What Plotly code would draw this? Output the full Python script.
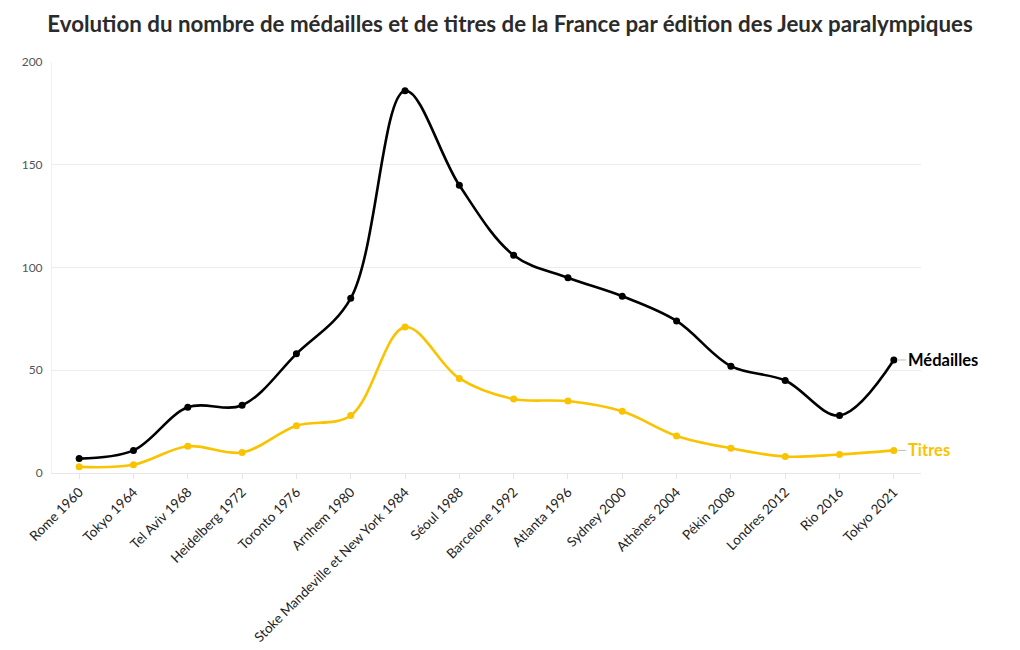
import plotly.graph_objects as go

editions = ["Rome 1960", "Tokyo 1964", "Tel Aviv 1968", "Heidelberg 1972", "Toronto 1976",
            "Arnhem 1980", "Stoke Mandeville et New York 1984", "Séoul 1988", "Barcelone 1992",
            "Atlanta 1996", "Sydney 2000", "Athènes 2004", "Pékin 2008", "Londres 2012",
            "Rio 2016", "Tokyo 2021"]
medailles = [7, 11, 32, 33, 58, 85, 186, 140, 106, 95, 86, 74, 52, 45, 28, 55]
titres = [3, 4, 13, 10, 23, 28, 71, 46, 36, 35, 30, 18, 12, 8, 9, 11]

BLACK = "#000000"
GOLD = "#F9C300"
FONT = "Lato"

fig = go.Figure()
fig.add_trace(go.Scatter(x=editions, y=medailles, mode="lines+markers", name="Médailles",
                         line=dict(color=BLACK, width=2.6, shape="spline", smoothing=1),
                         marker=dict(size=7, color=BLACK)))
fig.add_trace(go.Scatter(x=editions, y=titres, mode="lines+markers", name="Titres",
                         line=dict(color=GOLD, width=2.6, shape="spline", smoothing=1),
                         marker=dict(size=7, color=GOLD)))

for name, vals, col in [("Médailles", medailles, BLACK), ("Titres", titres, GOLD)]:
    fig.add_annotation(x=editions[-1], y=vals[-1], text="<b>" + name + "</b>",
                       showarrow=True, arrowhead=0, arrowwidth=1, arrowcolor="#bbbbbb",
                       ax=12, ay=0, xanchor="left", yanchor="middle",
                       font=dict(family=FONT, size=16.5, color=col), standoff=4)

fig.update_layout(
    width=1020, height=650,
    margin=dict(l=52, r=99, t=62, b=177, autoexpand=False),
    paper_bgcolor="white", plot_bgcolor="white",
    showlegend=False,
    title=dict(text="<b>Evolution du nombre de médailles et de titres de la France par édition des Jeux paralympiques</b>",
               x=0.5, xanchor="center", y=0.963, yanchor="middle",
               font=dict(family=FONT, size=22.3, color="#2b2b2b")),
    font=dict(family=FONT, color="#444444"),
    xaxis=dict(showgrid=False, tickangle=-45, ticks="outside", ticklen=5, tickcolor="#e6e6e6",
               tickfont=dict(size=13.5, color="#222222"), showline=True, linecolor="#e6e6e6",
               automargin=False, range=[-0.5, len(editions) - 0.5]),
    yaxis=dict(range=[0, 200], dtick=50, showgrid=True, gridcolor="#ececec", zeroline=False,
               tickfont=dict(size=12, color="#555555"), showline=True, linecolor="#f0f0f0",
               ticks="outside", ticklen=6, tickcolor="white", automargin=False),
)

fig.write_html("out.html", config={"displayModeBar": False},
               post_script="document.body.style.margin='0';")
